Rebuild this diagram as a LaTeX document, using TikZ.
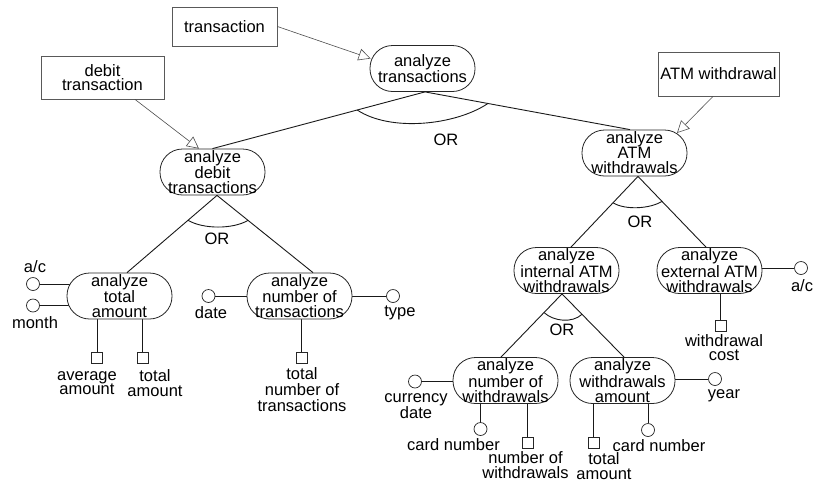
\documentclass[tikz,border=0pt]{standalone}
\usepackage{fontspec}
\setmainfont{Liberation Sans}
\usetikzlibrary{arrows.meta,calc}
\pgfdeclarelayer{background}
\pgfsetlayers{background,main}
\tikzset{
 proc/.style={draw=black!85, fill=white, rounded corners=22.5pt, minimum width=105pt, minimum height=46pt, inner sep=0pt, align=center, line width=0.8pt, font=\fontsize{16.5pt}{15pt}\selectfont},
 extbox/.style={draw=black!65, fill=white, inner sep=0pt, align=center, line width=0.8pt},
 attr/.style={circle, draw=black!85, fill=white, minimum size=13pt, inner sep=0pt, line width=0.7pt},
 outp/.style={rectangle, draw=black!85, fill=white, minimum size=11pt, inner sep=0pt, line width=0.7pt},
 lbl/.style={align=center, inner sep=0pt},
 link/.style={line width=0.9pt, draw=black!90},
 feed/.style={draw=black!70, line width=0.6pt, -{Triangle[open,length=12pt,width=12pt]}},
 orarc/.style={line width=0.9pt, draw=black!90},
}
\begin{document}
\begin{tikzpicture}[x=1pt,y=-1pt,font=\fontsize{16.5pt}{14.5pt}\selectfont]
\useasboundingbox (0,0) rectangle (814,483);

% process nodes
\node[proc] (at) at (422.5,68.5) {analyze\\transactions};
\node[proc] (ad) at (212.5,172) {analyze\\debit\\transactions};
\node[proc] (aatm) at (634.5,153) {analyze\\ATM\\withdrawals};
\node[proc] (tot) at (119.5,296) {analyze\\total\\amount};
\node[proc] (nt) at (299.5,296) {analyze\\number of\\transactions};
\node[proc] (int) at (566.5,270.5) {analyze\\internal ATM\\withdrawals};
\node[proc] (ext) at (709.5,270.5) {analyze\\external ATM\\withdrawals};
\node[proc] (nw) at (505.5,380.5) {analyze\\number of\\withdrawals};
\node[proc] (wa) at (622.5,380.5) {analyze\\withdrawals\\amount};

% external boxes
\node[extbox, minimum width=105pt, minimum height=39pt] (tr) at (224.5,26.5) {transaction};
\node[extbox, minimum width=123pt, minimum height=43pt] (dt) at (102.5,77.5) {debit\\transaction};
\node[extbox, minimum width=121pt, minimum height=44pt] (aw) at (718.5,74) {ATM withdrawal};

% feeding arrows
\draw[feed] (tr.east) -- ($(at.west)+(1,-10)$);
\draw[feed] ($(dt.south)+(32.5,0)$) -- ($(ad.north)+(-13.5,0)$);
\draw[feed] ($(aw.south)+(-5.5,0)$) -- ($(aatm.center)+(42.5,-20)$);

% tree connectors
\coordinate (atS) at ($(at.south)+(2.5,0)$);
\coordinate (adN) at (ad.north);
\coordinate (aatmN) at ($(aatm.north)+(-4.5,0)$);
\draw[link] (atS) -- (adN);
\draw[link] (atS) -- (aatmN);
\draw[orarc] ($(atS)!0.319!(adN)$) .. controls +(33,22) and ($($(atS)!0.307!(aatmN)$)+(-33,22)$) .. ($(atS)!0.307!(aatmN)$);
\node[lbl] (or1) at (446,140) {OR};

\coordinate (adS) at ($(ad.south)+(4.5,0)$);
\coordinate (totN) at ($(tot.north)+(7.5,0)$);
\coordinate (ntN) at ($(nt.north)+(13.5,0)$);
\draw[link] (adS) -- (totN);
\draw[link] (adS) -- (ntN);
\draw[orarc] ($(adS)!0.322!(totN)$) .. controls +(15,9) and ($($(adS)!0.323!(ntN)$)+(-15,9)$) .. ($(adS)!0.323!(ntN)$);
\node[lbl] (or2) at (217,239) {OR};

\coordinate (aatmS) at ($(aatm.south)+(3.5,0)$);
\coordinate (intN) at ($(int.north)+(4.5,0)$);
\coordinate (extN) at ($(ext.north)+(-3.5,0)$);
\draw[link] (aatmS) -- (intN);
\draw[link] (aatmS) -- (extN);
\draw[orarc] ($(aatmS)!0.373!(intN)$) .. controls +(12,7.5) and ($($(aatmS)!0.353!(extN)$)+(-12,7.5)$) .. ($(aatmS)!0.353!(extN)$);
\node[lbl] (or3) at (640,222) {OR};

\coordinate (intS) at ($(int.south)+(-4.5,0)$);
\coordinate (nwN) at ($(nw.north)+(-4.5,0)$);
\coordinate (waN) at ($(wa.north)+(1.5,0)$);
\draw[link] (intS) -- (nwN);
\draw[link] (intS) -- (waN);
\draw[orarc] ($(intS)!0.295!(nwN)$) .. controls +(10,9) and ($($(intS)!0.323!(waN)$)+(-10,9)$) .. ($(intS)!0.323!(waN)$);
\node[lbl] (or4) at (562,330) {OR};

% attributes and outputs
\node[attr] (ac1) at (33,284) {};
\node[lbl] (ac1l) at (35,267) {a/c};
\node[attr] (mo) at (33,305.5) {};
\node[lbl] (mol) at (35,323) {month};
\node[outp] (avg) at (97,357.5) {};
\node[lbl] (avgl) at (87,383) {average\\amount};
\node[outp] (tam) at (142.5,357.5) {};
\node[lbl] (taml) at (155,383) {total\\amount};

\node[attr] (dat) at (208.5,296) {};
\node[lbl] (datl) at (211,313) {date};
\node[attr] (typ) at (393,296) {};
\node[lbl] (typl) at (400,313) {type};
\node[outp] (tnt) at (301.5,357.5) {};
\node[lbl, font=\fontsize{16.5pt}{16pt}\selectfont] (tntl) at (302,389.5) {total\\number of\\transactions};

\node[attr] (ac2) at (801,268) {};
\node[lbl] (ac2l) at (802,286) {a/c};
\node[outp] (wc) at (720.5,325.5) {};
\node[lbl] (wcl) at (724,347.5) {withdrawal\\cost};

\node[attr] (cur) at (415,381.5) {};
\node[lbl] (curl) at (416,406) {currency\\date};
\node[attr] (cn1) at (480.5,429) {};
\node[lbl] (cn1l) at (453.5,445) {card number};
\node[outp] (now) at (527.5,442.5) {};
\node[lbl] (nowl) at (525.5,465) {number of\\withdrawals};

\node[attr] (yr) at (715,379) {};
\node[lbl] (yrl) at (724,396) {year};
\node[outp] (ta2) at (593.5,442.5) {};
\node[lbl] (ta2l) at (604,466) {total\\amount};
\node[attr] (cn2) at (648,430) {};
\node[lbl] (cn2l) at (659,446) {card number};

\begin{pgfonlayer}{background}
\draw[link] (ac1) -- (ac1 -| tot.center);
\draw[link] (mo) -- (mo -| tot.center);
\draw[link] (avg) -- (avg |- tot.center);
\draw[link] (tam) -- (tam |- tot.center);
\draw[link] (dat) -- (dat -| nt.center);
\draw[link] (typ) -- (typ -| nt.center);
\draw[link] (tnt) -- (tnt |- nt.center);
\draw[link] (ac2) -- (ac2 -| ext.center);
\draw[link] (wc) -- (wc |- ext.center);
\draw[link] (cur) -- (cur -| nw.center);
\draw[link] (cn1) -- (cn1 |- nw.center);
\draw[link] (now) -- (now |- nw.center);
\draw[link] (yr) -- (yr -| wa.center);
\draw[link] (ta2) -- (ta2 |- wa.center);
\draw[link] (cn2) -- (cn2 |- wa.center);
\end{pgfonlayer}
\end{tikzpicture}
\end{document}
